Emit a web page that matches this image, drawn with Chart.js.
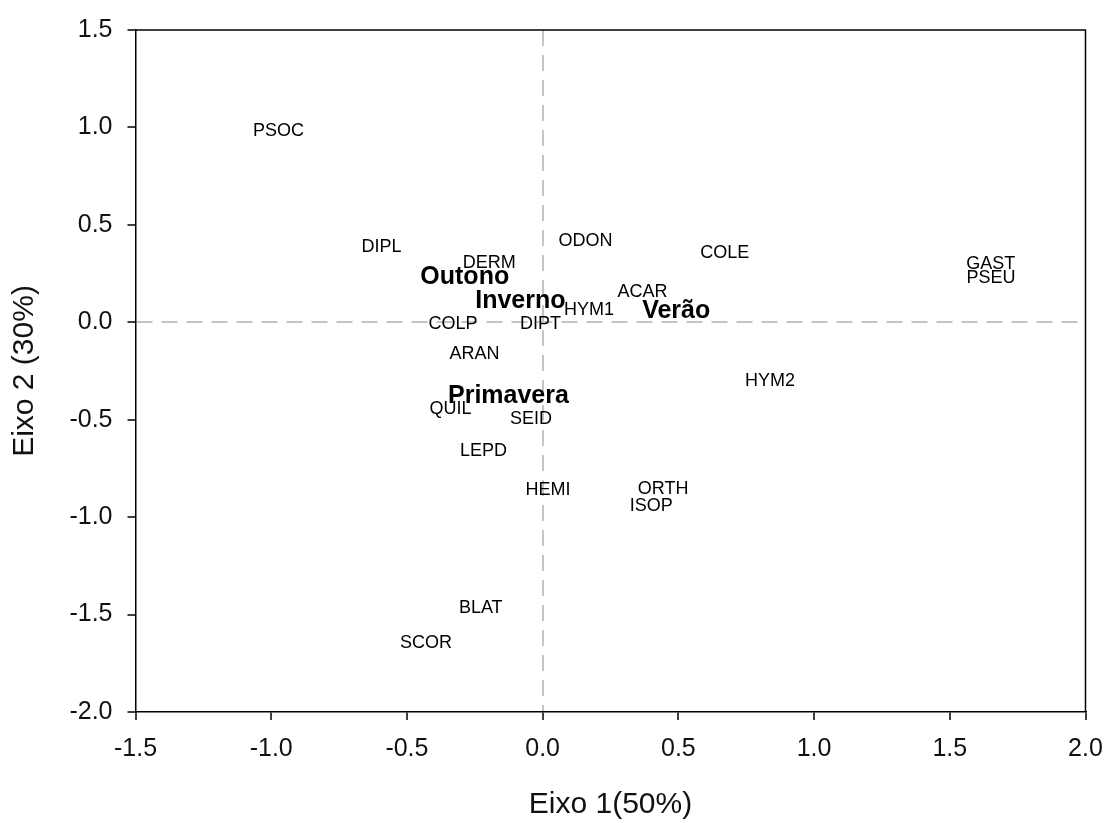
<!DOCTYPE html>
<html>
<head>
<meta charset="utf-8">
<script src="https://cdn.jsdelivr.net/npm/chart.js@4"></script>
<style>
  html, body { margin: 0; padding: 0; background: #fff; }
  #wrap { width: 1108px; height: 823px; }
</style>
</head>
<body>
<div id="wrap"><canvas id="c" width="1108" height="823"></canvas></div>
<script>
// Taxa (ordination scores)
const taxa  = ['PSOC','DIPL','DERM','ODON','COLE','GAST','PSEU','ACAR','HYM1','COLP','DIPT','ARAN','QUIL','SEID','LEPD','HYM2','HEMI','ORTH','ISOP','BLAT','SCOR'];
const taxaX = [-0.973,-0.594,-0.197,0.158,0.671,1.651,1.652,0.368,0.171,-0.330,-0.008,-0.251,-0.339,-0.043,-0.218,0.838,0.020,0.444,0.400,-0.228,-0.430];
const taxaY = [0.984,0.385,0.302,0.415,0.354,0.301,0.229,0.154,0.062,-0.008,-0.010,-0.162,-0.447,-0.495,-0.661,-0.299,-0.859,-0.858,-0.945,-1.469,-1.648];

// Seasons
const seasons = ['Outono','Inverno','Verão','Primavera'];
const seasonX = [-0.287,-0.082,0.492,-0.126];
const seasonY = [0.232,0.109,0.057,-0.378];

// Axis ticks
const xTicks = [-1.5,-1.0,-0.5,0.0,0.5,1.0,1.5,2.0];
const yTicks = [-2.0,-1.5,-1.0,-0.5,0.0,0.5,1.0,1.5];
const xTitle = 'Eixo 1(50%)';
const yTitle = 'Eixo 2 (30%)';

const FONT = "'Liberation Sans', Arial, Helvetica, sans-serif";

const labelPlugin = {
  id: 'pointLabels',
  afterDatasetsDraw(chart) {
    const ctx = chart.ctx;
    chart.data.datasets.forEach((ds, di) => {
      const meta = chart.getDatasetMeta(di);
      ctx.save();
      ctx.font = ds.labelFont;
      ctx.fillStyle = '#000';
      ctx.textAlign = 'center';
      ctx.textBaseline = 'middle';
      meta.data.forEach((el, i) => {
        ctx.fillText(ds.names[i], el.x, el.y);
      });
      ctx.restore();
    });
  }
};

const framePlugin = {
  id: 'frame',
  afterDraw(chart) {
    const {ctx, chartArea: a} = chart;
    ctx.save();
    ctx.strokeStyle = '#000';
    ctx.lineWidth = 1.5;
    ctx.beginPath();
    ctx.moveTo(a.left, a.top);
    ctx.lineTo(a.right, a.top);
    ctx.lineTo(a.right, a.bottom);
    ctx.stroke();
    ctx.restore();
  }
};

const zeroGrid = (c) => (c.tick && Math.abs(c.tick.value) < 1e-9) ? '#c4c4c4' : 'rgba(0,0,0,0)';

new Chart(document.getElementById('c'), {
  type: 'scatter',
  data: {
    datasets: [
      {
        data: taxa.map((n, i) => ({x: taxaX[i], y: taxaY[i]})),
        names: taxa,
        labelFont: '18px ' + FONT,
        pointRadius: 0, pointHoverRadius: 0
      },
      {
        data: seasons.map((n, i) => ({x: seasonX[i], y: seasonY[i]})),
        names: seasons,
        labelFont: 'bold 25px ' + FONT,
        pointRadius: 0, pointHoverRadius: 0
      }
    ]
  },
  options: {
    responsive: false,
    animation: false,
    devicePixelRatio: 1,
    layout: { padding: { left: 0, right: 22.5, top: 29, bottom: 0 } },
    plugins: { legend: { display: false }, tooltip: { enabled: false } },
    events: [],
    scales: {
      x: {
        type: 'linear',
        min: xTicks[0], max: xTicks[xTicks.length - 1],
        afterBuildTicks: (s) => { s.ticks = xTicks.map(v => ({value: v})); },
        afterFit: (s) => { s.height = 111; s.paddingRight = 0; s.paddingLeft = 0; },
        ticks: {
          callback: (v) => Number(v).toFixed(1),
          font: { family: FONT, size: 25 },
          color: '#111',
          padding: 14,
          maxRotation: 0,
          autoSkip: false
        },
        grid: {
          color: zeroGrid,
          lineWidth: 2,
          tickColor: '#000',
          tickWidth: 1.5,
          tickLength: 8,
          drawTicks: true
        },
        border: { display: true, color: '#000', width: 1.5, dash: [16, 9] },
        title: {
          display: true, text: xTitle,
          font: { family: FONT, size: 30 },
          color: '#111',
          padding: { top: 0, bottom: 0 }
        }
      },
      y: {
        type: 'linear',
        min: yTicks[0], max: yTicks[yTicks.length - 1],
        afterBuildTicks: (s) => { s.ticks = yTicks.map(v => ({value: v})); },
        afterFit: (s) => { s.width = 135.5; },
        ticks: {
          callback: (v) => Number(v).toFixed(1),
          font: { family: FONT, size: 25 },
          color: '#111',
          padding: 15,
          autoSkip: false
        },
        grid: {
          color: zeroGrid,
          lineWidth: 2,
          tickColor: '#000',
          tickWidth: 1.5,
          tickLength: 8,
          drawTicks: true
        },
        border: { display: true, color: '#000', width: 1.5, dash: [16, 9] },
        title: {
          display: true, text: yTitle,
          font: { family: FONT, size: 30 },
          color: '#111',
          padding: { top: 7, bottom: 0 }
        }
      }
    }
  },
  plugins: [labelPlugin, framePlugin]
});
</script>
</body>
</html>
